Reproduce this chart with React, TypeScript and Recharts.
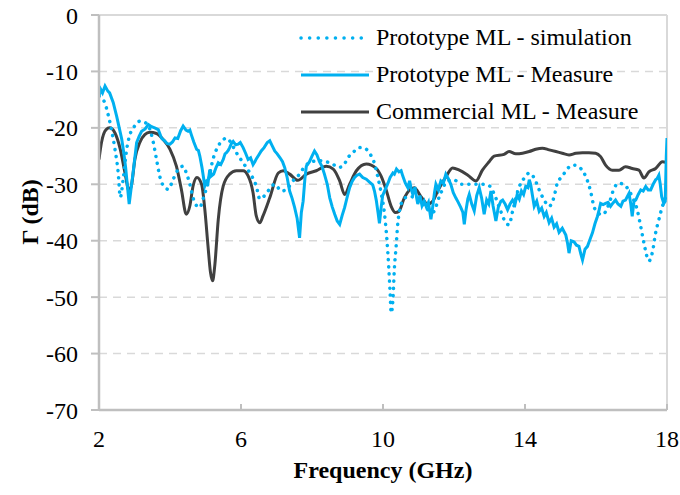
import React from "react";
import {
  LineChart,
  Line,
  XAxis,
  YAxis,
  CartesianGrid,
  ReferenceLine,
} from "recharts";

// frequency (GHz) / reflection (dB) pairs
const simFreq = [
  2.0, 2.1, 2.17, 2.23, 2.29, 2.36, 2.45, 2.54, 2.6, 2.68, 2.78, 2.87, 2.97, 3.06, 3.16, 3.28, 3.39,
  3.53, 3.62, 3.72, 3.86, 3.95, 4.09, 4.23, 4.37, 4.46, 4.56, 4.65, 4.75, 4.84, 4.93, 5.07, 5.21,
  5.36, 5.5, 5.59, 5.68, 5.87, 6.06, 6.25, 6.43, 6.53, 6.62, 6.76, 6.95,
  7.14, 7.3, 7.45, 7.65, 7.8, 8.0, 8.2, 8.4, 8.6, 8.75, 8.87, 9.01, 9.15, 9.34,
  9.48, 9.62, 9.76, 9.85, 9.95, 10.04, 10.11, 10.16, 10.2, 10.23, 10.28, 10.32, 10.37, 10.41, 10.47, 10.55,
  10.7, 10.84, 10.98, 11.16, 11.4, 11.6, 11.82, 12.0, 12.2, 12.52, 12.8, 13.0, 13.15, 13.3, 13.45, 13.55, 13.65,
  13.84, 13.98, 14.12, 14.26, 14.4, 14.54, 14.68, 14.82, 14.91, 15.05, 15.2, 15.38, 15.57, 15.71, 15.85, 15.94,
  16.04, 16.18, 16.37, 16.51, 16.65, 16.83, 17.02, 17.16, 17.26, 17.35, 17.45, 17.49, 17.59, 17.68, 17.77, 17.87, 17.95, 18.0,
];
const simDb = [
  -14.4, -15, -15.6, -17, -18.5, -20.6, -23.8, -27.9, -32.3, -29.1, -23.8, -21.2, -20, -19.2, -18.8, -19, -19.6,
  -22.6, -25.6, -28.8, -30.6, -30.9, -29.1, -27.4, -26.8, -28, -30, -32.4, -33.8, -34.1, -32.6, -29.7, -25.6,
  -23.2, -22.1, -21.8, -22.3, -24.4, -26.2, -28, -30.3, -32.6, -32.3, -31.2, -30,
  -31.2, -30.8, -29.5, -28.2, -26.8, -26, -25.8, -26, -26.5, -27, -26.8, -25.3, -24.4, -23.5,
  -23.6, -24.5, -26.3, -28.6, -31.6, -35.1, -39.8, -44.5, -49.2, -52.8, -50.4, -45, -41, -37.4, -34.5, -33,
  -32.2, -32.2, -32.4, -33.8, -35, -32, -29.4, -29.2, -30, -30, -30, -30.3, -32, -34.5, -36.7, -37.2, -34.8,
  -30.4, -28.9, -28, -28.9, -31, -32.8, -33.9, -32.2, -29.8, -28.6, -27.2, -26.6, -27.2, -28.6, -31.3, -33.9,
  -35, -35.4, -33.4, -30.7, -29.8, -30.3, -32.2, -34.5, -37.5, -40.4, -43.1, -43.6, -42, -38.6, -36.3, -33.9, -32.5, -31.5,
];

const protoFreq = [
  2.0, 2.05, 2.1, 2.17, 2.25, 2.3, 2.4, 2.5, 2.57, 2.64, 2.7, 2.75, 2.8, 2.85, 2.9, 2.97,
  3.06, 3.13, 3.2, 3.3, 3.39, 3.48, 3.57, 3.67, 3.76, 3.85, 3.92, 4.0, 4.07, 4.14, 4.22, 4.3, 4.37,
  4.45, 4.51, 4.56, 4.6, 4.67, 4.75, 4.8, 4.84, 4.9, 4.98, 5.03, 5.07, 5.12, 5.17, 5.23, 5.3, 5.36, 5.43, 5.5,
  5.55, 5.59, 5.64, 5.68, 5.73, 5.78, 5.85, 5.92, 5.98, 6.06, 6.13, 6.2, 6.27, 6.34, 6.39, 6.43, 6.5,
  6.57, 6.65, 6.74, 6.81, 6.88, 6.95, 7.02, 7.1, 7.17, 7.23, 7.3,
  7.37, 7.44, 7.51, 7.58, 7.65, 7.7, 7.75, 7.8, 7.84, 7.93, 8.0, 8.07, 8.14, 8.21, 8.28,
  8.35, 8.43, 8.5, 8.57, 8.64, 8.71, 8.78, 8.85, 8.92, 8.99, 9.06, 9.13, 9.2, 9.27, 9.34, 9.43, 9.53,
  9.62, 9.71, 9.76, 9.81, 9.86, 9.9, 9.95, 9.99, 10.07, 10.14, 10.2,
  10.28, 10.32, 10.38, 10.45, 10.51, 10.56, 10.63, 10.7, 10.75, 10.8, 10.84, 10.9, 10.95, 10.98, 11.04,
  11.1, 11.16, 11.22, 11.28, 11.35, 11.4, 11.45, 11.49, 11.56, 11.63, 11.7, 11.77, 11.84, 11.91, 11.98,
  12.05, 12.12, 12.19, 12.25, 12.29, 12.34, 12.39, 12.43, 12.5, 12.57, 12.64, 12.71, 12.78,
  12.85, 12.92, 12.98, 13.04, 13.1, 13.18, 13.25, 13.32, 13.37, 13.44, 13.51, 13.58,
  13.65, 13.72, 13.78, 13.84, 13.9, 13.96, 14.02, 14.08, 14.12, 14.16, 14.21, 14.26, 14.33, 14.4, 14.47, 14.54,
  14.6, 14.68, 14.75, 14.82, 14.89, 14.96, 15.05, 15.15, 15.2, 15.24, 15.3, 15.38, 15.45, 15.52,
  15.57, 15.62, 15.69, 15.76, 15.83, 15.9, 15.97, 16.04, 16.09, 16.13, 16.2, 16.27, 16.34, 16.41, 16.48,
  16.55, 16.62, 16.7, 16.76, 16.83, 16.88, 16.93, 16.98, 17.02, 17.07, 17.12, 17.19, 17.26,
  17.33, 17.4, 17.47, 17.54, 17.61, 17.68, 17.72, 17.77, 17.81, 17.85, 17.91, 17.95, 17.98, 18.0,
];
const protoDb = [
  -14.5, -13.2, -13.8, -12.6, -13.5, -13.8, -15.5, -18, -20, -22, -24.5, -27, -30.3, -33.5, -31, -27.4,
  -22.6, -21.5, -20.6, -20.2, -19.4, -19.8, -20, -20.3, -21.8, -22.3, -22.8, -22.9, -22.5, -21.8, -21.9, -20.5, -19.7,
  -20.4, -20.6, -20.4, -21.2, -22.5, -23.8, -24, -25, -27, -30.3, -29.5, -29.8, -27.4, -28.5, -28.2, -27, -26.2, -26.5, -25.6,
  -24.6, -24.4, -24, -23.5, -22.8, -22.4, -23, -22.9, -22.6, -23.5, -24.5, -25.6, -25.3, -26.5, -26, -25.5, -24.8,
  -24.1, -23.5, -22.6, -22.3, -23.2, -24.1, -24.6, -25.3, -26, -27, -28.8,
  -31.2, -32.5, -34.1, -36, -39.5, -35, -33, -29, -26.8, -26, -25, -24.1, -24.8, -26, -26.8,
  -28.2, -30, -32.4, -34, -35.3, -36.5, -37.1, -35.5, -34.1, -32.3, -30.6, -29.5, -28.8, -28.4, -28.2, -28.8, -29.1,
  -29.6, -30.1, -31.2, -32.8, -35, -36.9, -34, -32, -30.8, -29.8, -28.8,
  -28, -28.2, -27.3, -27.8, -27.6, -28.6, -29.8, -30.6, -29.4, -31, -31.8, -30.5, -32.5, -33.5, -32,
  -33.8, -33, -34, -33.2, -36.2, -34, -31.5, -30, -31, -29.4, -29.8, -28.2, -29, -30, -31.5,
  -32.4, -33.2, -34.1, -35, -37.1, -34.5, -32.6, -31.8, -33.5, -34.7, -32, -30.6, -32.5,
  -35.3, -32.8, -33.5, -31.2, -33.8, -36.5, -34, -33, -32.8, -33.5, -34.5, -33.5,
  -32.8, -33.5, -31.8, -32.6, -31.2, -31.8, -30.4, -30.6, -29.2, -30, -32, -33.9, -33, -34.8, -34.2, -35.7,
  -35, -36.8, -36, -37.6, -37, -38.5, -37.8, -39, -40.5, -42.2, -40, -40.2, -40.8, -41,
  -42.3, -43.4, -41.5, -41, -39.8, -38.6, -37, -35.7, -34.5, -33.4, -33.6, -33.4, -33.2, -33.9, -33.3,
  -32.8, -33.5, -33.9, -33, -32.8, -32.2, -31.6, -33.5, -35.7, -33, -32.8, -31.8, -31,
  -31.2, -30.4, -31, -31, -30, -29.2, -29, -28.4, -30, -32.2, -33.4, -33, -25, -21.8,
];

const commFreq = [
  2.0, 2.07, 2.2, 2.3, 2.45, 2.6, 2.73, 2.85, 2.92, 3.01, 3.15, 3.29, 3.43, 3.62, 3.81, 4.0,
  4.18, 4.32, 4.46, 4.56, 4.65, 4.76, 4.89, 4.98, 5.07, 5.14, 5.2, 5.26, 5.36, 5.5, 5.68, 5.87,
  6.06, 6.2, 6.34, 6.43, 6.53, 6.62, 6.81, 7.05, 7.19, 7.37, 7.6, 7.84, 8.12, 8.4, 8.6,
  8.78, 8.92, 9.06, 9.25, 9.53, 9.81, 9.95, 10.09, 10.23, 10.35, 10.45, 10.6, 10.88, 11.07, 11.26,
  11.4, 11.54, 11.78, 11.96, 12.15, 12.39, 12.62, 12.8, 12.99, 13.13, 13.41, 13.55, 13.74, 13.93, 14.12, 14.3,
  14.49, 14.68, 14.87, 15.05, 15.24, 15.43, 15.62, 15.8, 15.99, 16.13, 16.27, 16.46, 16.65, 16.83, 17.02,
  17.21, 17.35, 17.49, 17.68, 17.87, 18.0,
];
const commDb = [
  -25.6, -22.6, -20.3, -20, -20.9, -23.8, -27.9, -31.2, -30, -25.6, -22.6, -21.2, -20.8, -21, -22.1, -23.8,
  -26.8, -30.9, -35.3, -33.8, -30.3, -28.8, -30, -34.4, -40.9, -45.6, -47.1, -44.5, -36.2, -30.3, -28.2, -27.6,
  -27.6, -28.5, -31.5, -35.6, -36.8, -35.6, -32.4, -28, -27.6, -28.2, -29.3, -28.2, -27.6, -26.8, -27.3,
  -29.4, -31.8, -30, -27.6, -26.4, -27.2, -28.6, -31, -33.9, -35, -34.8, -32.4, -30.6, -32.2, -33.5,
  -33, -31.2, -28.6, -27.1, -27.5, -28.4, -29.4, -27.5, -26, -25, -24.7, -24.2, -24.6, -24.5, -24.2, -23.8,
  -23.6, -23.9, -24.2, -24.5, -24.8, -24.5, -24.4, -24.4, -24.5, -25.1, -26.6, -27.5, -27.5, -26.9, -27.2,
  -27.5, -28.9, -27.8, -27.2, -26, -26.2,
];

const xTicks = [2, 6, 10, 14, 18];
const yTicks = [0, -10, -20, -30, -40, -50, -60, -70];

const BLUE = "#00b0f0";
const DARK = "#404040";
const AXIS = "#bfbfbf";
const GRID = "#d9d9d9";
const FONT = "Liberation Serif, Times New Roman, Times, serif";

const toPoints = (fs: number[], vs: number[]) => fs.map((f, i) => ({ f, v: vs[i] }));

const series = [
  { name: "Prototype ML - simulation", color: BLUE, dotted: true },
  { name: "Prototype ML - Measure", color: BLUE, dotted: false },
  { name: "Commercial ML - Measure", color: DARK, dotted: false },
];

function LegendBox() {
  return (
    <div
      style={{
        position: "absolute",
        left: 297,
        top: 19,
        fontFamily: FONT,
        fontSize: 24,
        color: "#000",
        lineHeight: "37px",
      }}
    >
      {series.map((s) => (
        <div key={s.name} style={{ display: "flex", alignItems: "center", height: 37 }}>
          <svg width={79} height={10}>
            <line
              x1={4}
              x2={72}
              y1={5}
              y2={5}
              stroke={s.color}
              strokeWidth={s.dotted ? 3.5 : 3}
              strokeDasharray={s.dotted ? "0.1 8.5" : undefined}
              strokeLinecap={s.dotted ? "round" : "butt"}
            />
          </svg>
          <span style={{ whiteSpace: "nowrap" }}>{s.name}</span>
        </div>
      ))}
    </div>
  );
}

function XTick(props: any) {
  const { x, y, payload } = props;
  return (
    <g>
      <line x1={x} x2={x} y1={y} y2={y - 6} stroke={AXIS} strokeWidth={2} />
      <text x={x} y={y + 29} textAnchor="middle" dominantBaseline="central" fontFamily={FONT} fontSize={24} fill="#000">
        {payload.value}
      </text>
    </g>
  );
}

export default function App() {
  const sim = toPoints(simFreq, simDb);
  const proto = toPoints(protoFreq, protoDb);
  const comm = toPoints(commFreq, commDb);

  return (
    <div style={{ position: "absolute", left: 0, top: 0, width: 680, height: 495, background: "#fff" }}>
      <LineChart width={680} height={495} margin={{ top: 15, right: 13, left: 0, bottom: 0 }}>
        <CartesianGrid horizontal vertical={false} stroke={GRID} strokeWidth={1.5} strokeDasharray="8 6" />
        <XAxis
          type="number"
          dataKey="f"
          domain={[2, 18]}
          ticks={xTicks}
          allowDataOverflow
          height={85}
          stroke={AXIS}
          strokeWidth={2.5}
          tickLine={false}
          tickSize={0}
          tickMargin={0}
          tick={<XTick />}
          label={{
            content: () => (
              <text x={383} y={470} textAnchor="middle" dominantBaseline="central" fontFamily={FONT} fontSize={24} fontWeight="bold" fill="#000">
                Frequency (GHz)
              </text>
            ),
          }}
        />
        <YAxis
          type="number"
          domain={[-70, 0]}
          ticks={yTicks}
          allowDataOverflow
          width={99}
          stroke={AXIS}
          strokeWidth={2.5}
          tickSize={8}
          tickMargin={13}
          tickLine={{ stroke: AXIS, strokeWidth: 2 }}
          tick={{ fontFamily: FONT, fontSize: 24, fill: "#000" }}
          label={{
            content: () => (
              <text x={30} y={212} transform="rotate(-90 30 212)" textAnchor="middle" dominantBaseline="central" fontFamily={FONT} fontSize={24} fontWeight="bold" fill="#000">
                Γ (dB)
              </text>
            ),
          }}
        />
        <ReferenceLine y={0} stroke={GRID} strokeWidth={2} />
        <ReferenceLine x={18} stroke={GRID} strokeWidth={2} />
        <Line
          data={comm}
          dataKey="v"
          name={series[2].name}
          type="monotone"
          stroke={DARK}
          strokeWidth={3}
          dot={false}
          isAnimationActive={false}
        />
        <Line
          data={proto}
          dataKey="v"
          name={series[1].name}
          type="linear"
          stroke={BLUE}
          strokeWidth={3}
          dot={false}
          isAnimationActive={false}
        />
        <Line
          data={sim}
          dataKey="v"
          name={series[0].name}
          type="monotone"
          stroke={BLUE}
          strokeWidth={3.5}
          strokeDasharray="0.1 7"
          strokeLinecap="round"
          dot={false}
          isAnimationActive={false}
        />
      </LineChart>
      <LegendBox />
    </div>
  );
}
